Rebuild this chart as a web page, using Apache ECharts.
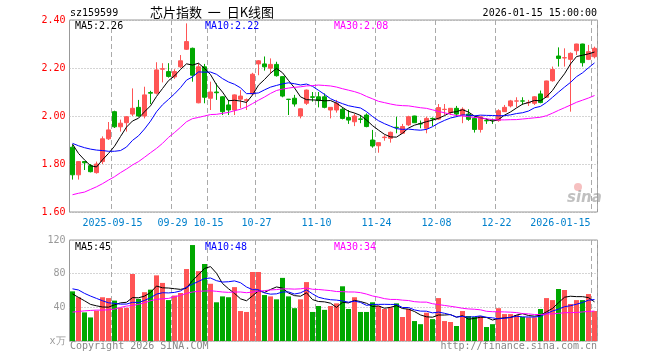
<!DOCTYPE html>
<html><head><meta charset="utf-8">
<script src="https://cdn.jsdelivr.net/npm/echarts@6/dist/echarts.min.js"></script>
<style>html,body{margin:0;padding:0;background:#fff}#c{width:660px;height:360px}</style>
</head><body><div id="c"></div>
<script>
const categories = [
'2025-09-04','2025-09-05','2025-09-08','2025-09-09','2025-09-10','2025-09-11','2025-09-12','2025-09-15','2025-09-16','2025-09-17',
'2025-09-18','2025-09-19','2025-09-22','2025-09-23','2025-09-24','2025-09-25','2025-09-26','2025-09-29','2025-09-30','2025-10-09',
'2025-10-10','2025-10-13','2025-10-14','2025-10-15','2025-10-16','2025-10-17','2025-10-20','2025-10-21','2025-10-22','2025-10-23',
'2025-10-24','2025-10-27','2025-10-28','2025-10-29','2025-10-30','2025-10-31','2025-11-03','2025-11-04','2025-11-05','2025-11-06',
'2025-11-07','2025-11-10','2025-11-11','2025-11-12','2025-11-13','2025-11-14','2025-11-17','2025-11-18','2025-11-19','2025-11-20',
'2025-11-21','2025-11-24','2025-11-25','2025-11-26','2025-11-27','2025-11-28','2025-12-01','2025-12-02','2025-12-03','2025-12-04',
'2025-12-05','2025-12-08','2025-12-09','2025-12-10','2025-12-11','2025-12-12','2025-12-15','2025-12-16','2025-12-17','2025-12-18',
'2025-12-19','2025-12-22','2025-12-23','2025-12-24','2025-12-25','2025-12-26','2025-12-29','2025-12-30','2025-12-31','2026-01-05',
'2026-01-06','2026-01-07','2026-01-08','2026-01-09','2026-01-12','2026-01-13','2026-01-14','2026-01-15'];
const tickDates = ['2025-09-15','2025-09-29','2025-10-15','2025-10-27','2025-11-10','2025-11-24','2025-12-08','2025-12-22','2026-01-15'];
const tickLabels = ['2025-09-15','09-29','10-15','10-27','11-10','11-24','12-08','12-22','2026-01-15'];

const opens = [1.870,1.755,1.810,1.793,1.764,1.810,1.905,2.018,1.955,1.972,
2.008,2.036,2.000,2.098,2.095,2.195,2.185,2.163,2.205,2.278,
2.282,2.055,2.205,2.074,2.100,2.080,2.046,2.025,2.070,2.065,
2.092,2.217,2.217,2.199,2.215,2.164,2.070,2.074,2.000,2.053,
2.080,2.080,2.080,2.025,2.025,2.028,1.994,1.976,1.988,2.004,
1.900,1.876,1.910,1.907,1.953,1.928,1.963,2.000,1.968,1.949,
1.990,1.987,2.027,2.014,2.032,2.004,2.008,1.990,1.944,1.981,
1.984,1.981,2.018,2.042,2.062,2.063,2.055,2.053,2.092,2.078,
2.147,2.250,2.242,2.236,2.272,2.300,2.236,2.247];
const highs = [1.880,1.812,1.812,1.800,1.810,1.915,1.975,2.022,1.985,2.000,
2.115,2.067,2.122,2.105,2.224,2.220,2.220,2.195,2.254,2.386,
2.285,2.220,2.217,2.143,2.136,2.082,2.067,2.090,2.108,2.073,
2.180,2.233,2.248,2.240,2.226,2.165,2.071,2.088,2.032,2.110,
2.100,2.100,2.094,2.036,2.067,2.036,2.025,2.010,2.004,2.011,
1.942,1.889,1.920,1.935,1.997,1.967,2.001,2.001,1.981,1.997,
1.994,2.050,2.050,2.033,2.042,2.036,2.028,1.997,1.998,1.990,
1.989,2.028,2.046,2.067,2.078,2.078,2.067,2.083,2.106,2.147,
2.206,2.286,2.282,2.265,2.301,2.301,2.296,2.289];
const lows = [1.735,1.735,1.775,1.765,1.760,1.800,1.900,1.950,1.935,1.935,
2.000,1.997,1.990,2.050,2.090,2.140,2.160,2.155,2.200,2.275,
2.143,2.053,2.053,2.025,2.067,2.004,2.004,2.004,2.032,2.025,
2.090,2.170,2.189,2.178,2.164,2.078,2.004,2.039,1.990,2.046,
2.060,2.036,2.032,1.990,2.014,1.986,1.967,1.958,1.970,1.953,
1.868,1.847,1.897,1.889,1.928,1.928,1.958,1.972,1.949,1.928,
1.958,1.983,2.004,2.004,1.997,1.970,1.980,1.931,1.931,1.967,
1.967,1.976,2.017,2.036,2.036,2.046,2.042,2.046,2.053,2.077,
2.143,2.206,2.206,2.018,2.254,2.206,2.233,2.240];
const closes = [1.755,1.810,1.805,1.768,1.800,1.905,1.942,1.955,1.970,1.997,
2.032,2.000,2.088,2.095,2.192,2.197,2.165,2.185,2.230,2.310,
2.170,2.205,2.078,2.100,2.097,2.018,2.025,2.088,2.083,2.068,
2.174,2.230,2.205,2.215,2.168,2.083,2.069,2.050,2.030,2.108,
2.078,2.064,2.036,2.036,2.053,1.990,1.983,2.000,1.986,1.956,
1.875,1.889,1.912,1.932,1.952,1.956,1.997,1.972,1.967,1.990,
1.988,2.035,2.028,2.032,2.008,2.028,1.986,1.944,1.997,1.980,
1.983,2.022,2.036,2.063,2.063,2.062,2.056,2.080,2.056,2.146,
2.194,2.240,2.243,2.261,2.300,2.222,2.268,2.282];
const volumes = [59,52,34,28,36,52,51,48,39.5,39.5,
79.6,50,58,61,78,69,48.6,54,57,85.5,
114,83,91.5,68,46,53,52,64,35.6,34.5,
82,82,54.6,53,49.5,75,53,39,49.5,70,
34.5,41.6,37,41.6,44.7,65,38,52,34.5,34.5,
46,41.6,38,40,44.7,28.5,38,23.7,20,33.6,
26,51,23.7,22.6,17.8,35.6,29.7,28.5,29.7,16.6,
20,39,32,32,30.9,28.5,28,28,38,51,
48.6,61.8,60.6,44,48.6,48.6,55.8,35.6];

// moving-average values at the start of the window (history not shown)
const ma5Head = [1.883,1.844,1.817,1.793];
const ma10Head = [1.886,1.876,1.868,1.862,1.858,1.856,1.853,1.853,1.856];
const ma30Head = [1.672,1.678,1.683,1.694,1.705,1.718,1.733,1.747,1.764,1.779,
1.796,1.810,1.828,1.847,1.865,1.886,1.911,1.931,1.953,1.976,
1.989,1.994,2.000,2.006,2.007,2.011,2.015,2.022,2.028];
const vma5Head = [56,51.8,47.8,43.5];
const vma10Head = [62,60.6,56.6,53.4,50.6,47.8,45.4,44.7,43.8];
const vma30Head = [34.3,35.1,35.8,36.3,36.7,36.7,37.1,37.9,39.9,41.5,
42.3,43.5,45.4,47.8,49.5,50.2,50.6,52.6,54.2,56.6,
58.2,59,59.4,59.7,59,58.2,57.8,58.2,58.2];

function movingAvg(src, n, head) {
  return src.map((v, i) => {
    if (i < n - 1) return head[i];
    let s = 0;
    for (let k = i - n + 1; k <= i; k++) s += src[k];
    return +(s / n).toFixed(4);
  });
}

const UP = '#ff5555', DOWN = '#00a800';
const MONO = '"DejaVu Sans Mono", monospace';
const gridLineIdx = tickDates.map(d => categories.indexOf(d));

const chart = echarts.init(document.getElementById('c'), null, {renderer: 'canvas'});
const xCommon = {
  type: 'category',
  data: categories,
  boundaryGap: true,
  axisLine: {show: false},
  axisTick: {show: false},
  splitLine: {
    show: true,
    interval: (idx) => gridLineIdx.indexOf(idx) >= 0,
    lineStyle: {color: '#aaa', type: [5, 3], width: 1}
  }
};
const option = {
  animation: false,
  backgroundColor: '#fff',
  grid: [
    {left: 69.5, top: 20, width: 528, height: 192, show: true, borderColor: '#999', borderWidth: 1, containLabel: false},
    {left: 69.5, top: 240, width: 528, height: 101, show: true, borderColor: '#999', borderWidth: 1, containLabel: false}
  ],
  xAxis: [
    Object.assign({}, xCommon, {
      gridIndex: 0,
      data: categories.map(c => c === tickDates[tickDates.length - 1] ? {value: c, textStyle: {align: 'right'}} : c),
      axisLabel: {
        show: true,
        interval: (idx) => gridLineIdx.indexOf(idx) >= 0,
        formatter: (v) => tickLabels[tickDates.indexOf(v)],
        color: '#0080cc', fontFamily: MONO, fontSize: 10, margin: 6, padding: [0, 4, 0, 0]
      }
    }),
    Object.assign({}, xCommon, {gridIndex: 1, axisLabel: {show: false}})
  ],
  yAxis: [
    {
      type: 'value', gridIndex: 0, min: 1.6, max: 2.4, interval: 0.2, scale: true,
      axisLine: {show: false}, axisTick: {show: false},
      axisLabel: {color: '#ff0000', fontFamily: MONO, fontSize: 10, margin: 4, formatter: v => v.toFixed(2)},
      splitLine: {show: true, lineStyle: {color: '#aaa', type: [1, 2]}}
    },
    {
      type: 'value', gridIndex: 1, min: 0, max: 120, interval: 40,
      axisLine: {show: false}, axisTick: {show: false},
      axisLabel: {color: '#999', fontFamily: MONO, fontSize: 10, margin: 4, formatter: v => v === 0 ? 'x万' : String(v)},
      splitLine: {show: true, lineStyle: {color: '#aaa', type: [1, 2]}}
    }
  ],
  series: [
    {
      type: 'candlestick', xAxisIndex: 0, yAxisIndex: 0, barWidth: 4,
      data: categories.map((c, i) => [opens[i], closes[i], lows[i], highs[i]]),
      itemStyle: {color: UP, color0: DOWN, borderColor: UP, borderColor0: DOWN, borderWidth: 1},
      z: 3
    },
    {type: 'line', xAxisIndex: 0, yAxisIndex: 0, data: movingAvg(closes, 5, ma5Head), symbol: 'none', lineStyle: {color: '#000', width: 1}, z: 4},
    {type: 'line', xAxisIndex: 0, yAxisIndex: 0, data: movingAvg(closes, 10, ma10Head), symbol: 'none', lineStyle: {color: '#0000ff', width: 1}, z: 4},
    {type: 'line', xAxisIndex: 0, yAxisIndex: 0, data: movingAvg(closes, 30, ma30Head), symbol: 'none', lineStyle: {color: '#ff00ff', width: 1}, z: 4},
    {
      type: 'bar', xAxisIndex: 1, yAxisIndex: 1, barWidth: 5,
      data: volumes.map((v, i) => ({value: v, itemStyle: {color: closes[i] >= opens[i] ? UP : DOWN}})),
      z: 3
    },
    {type: 'line', xAxisIndex: 1, yAxisIndex: 1, data: movingAvg(volumes, 5, vma5Head), symbol: 'none', lineStyle: {color: '#000', width: 1}, z: 4},
    {type: 'line', xAxisIndex: 1, yAxisIndex: 1, data: movingAvg(volumes, 10, vma10Head), symbol: 'none', lineStyle: {color: '#0000ff', width: 1}, z: 4},
    {type: 'line', xAxisIndex: 1, yAxisIndex: 1, data: movingAvg(volumes, 30, vma30Head), symbol: 'none', lineStyle: {color: '#ff00ff', width: 1}, z: 4}
  ],
  graphic: [
    {type: 'text', z: 10, style: {text: 'sz159599', x: 70, y: 13, font: '10px ' + MONO, fill: '#000', verticalAlign: 'middle'}},
    {type: 'text', z: 10, style: {text: '芯片指数  一  日K线图', x: 150, y: 12, font: '13px "Noto Sans CJK SC"', fill: '#000', verticalAlign: 'middle'}},
    {type: 'text', z: 10, style: {text: '2026-01-15 15:00:00', x: 597, y: 13, font: '10px ' + MONO, fill: '#000', align: 'right', verticalAlign: 'middle'}},
    {type: 'text', z: 10, style: {text: 'MA5:2.26', x: 75, y: 26, font: '10px ' + MONO, fill: '#000', verticalAlign: 'middle'}},
    {type: 'text', z: 10, style: {text: 'MA10:2.22', x: 205, y: 26, font: '10px ' + MONO, fill: '#0000ff', verticalAlign: 'middle'}},
    {type: 'text', z: 10, style: {text: 'MA30:2.08', x: 334, y: 26, font: '10px ' + MONO, fill: '#ff00ff', verticalAlign: 'middle'}},
    {type: 'text', z: 10, style: {text: 'MA5:45', x: 75, y: 247, font: '10px ' + MONO, fill: '#000', verticalAlign: 'middle'}},
    {type: 'text', z: 10, style: {text: 'MA10:48', x: 205, y: 247, font: '10px ' + MONO, fill: '#0000ff', verticalAlign: 'middle'}},
    {type: 'text', z: 10, style: {text: 'MA30:34', x: 334, y: 247, font: '10px ' + MONO, fill: '#ff00ff', verticalAlign: 'middle'}},
    {type: 'text', z: 10, style: {text: 'Copyright 2026 SINA.COM', x: 70, y: 346, font: '10px ' + MONO, fill: '#888', verticalAlign: 'middle'}},
    {type: 'text', z: 10, style: {text: 'http://finance.sina.com.cn', x: 597, y: 346, font: '10px ' + MONO, fill: '#888', align: 'right', verticalAlign: 'middle'}},
    {type: 'circle', z: 1, shape: {cx: 578, cy: 187, r: 4}, style: {fill: 'rgba(240,150,150,0.6)'}},
    {type: 'text', z: 1, style: {text: 'sina', x: 567, y: 198, font: 'italic bold 15px "DejaVu Sans"', fill: 'rgba(150,150,150,0.6)', verticalAlign: 'middle'}}
  ]
};
chart.setOption(option);
</script>
</body></html>
